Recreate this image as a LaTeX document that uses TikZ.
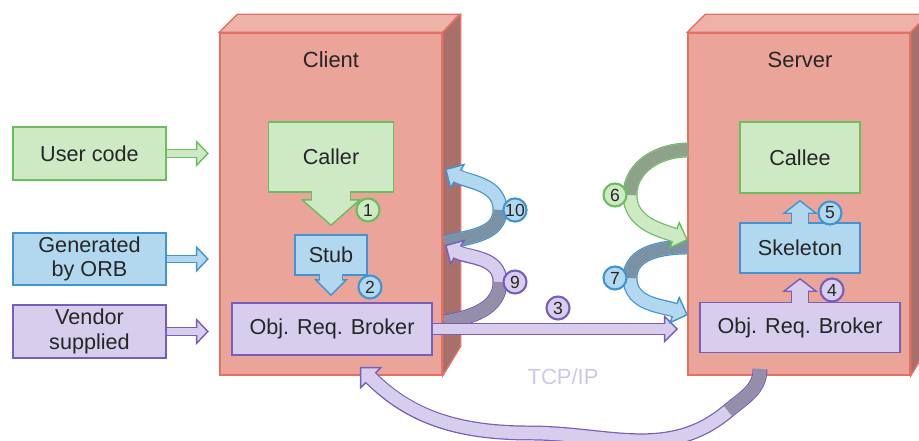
\documentclass[tikz,border=0pt]{standalone}
\usepackage{fontspec}
\setmainfont{Liberation Sans}
\usetikzlibrary{arrows.meta}
\usetikzlibrary{positioning}
\definecolor{boxred}{RGB}{234,164,153}
\definecolor{boxtop}{RGB}{238,178,168}
\definecolor{boxside}{RGB}{168,112,106}
\definecolor{boxline}{RGB}{226,114,100}
\definecolor{grnfill}{RGB}{205,234,197}
\definecolor{grnline}{RGB}{106,190,94}
\definecolor{grndark}{RGB}{142,162,138}
\definecolor{bluefill}{RGB}{178,216,240}
\definecolor{blueline}{RGB}{64,148,210}
\definecolor{bluedark}{RGB}{122,146,162}
\definecolor{purpfill}{RGB}{215,205,236}
\definecolor{purpline}{RGB}{118,94,186}
\definecolor{purpdark}{RGB}{148,142,168}
\definecolor{txtgray}{RGB}{38,38,38}
\definecolor{tcpcol}{RGB}{206,198,236}

\newcommand{\blockarrow}[7]{%
  \draw[line width=#3, draw=#1, -{Triangle[length=#5, width=#6, line width=0.8pt, fill=#2]}] #7;
  \draw[line width=#4, draw=#2, shorten >=#5-1.2pt] #7;
}

\begin{document}
\begin{tikzpicture}[x=0.2mm, y=0.2mm,
  tier/.style={draw=boxline, fill=boxred, line width=0.8pt, minimum width=44.4mm, minimum height=68.4mm},
  part/.style 2 args={draw=#1, fill=#2, line width=1pt, text=txtgray, align=center, inner sep=0pt, font=\fontsize{12.3}{14}\selectfont},
  num/.style 2 args={circle, draw=#1, fill=#2, line width=1.2pt, minimum size=4.6mm, inner sep=0pt, text=txtgray, font=\fontsize{10}{10}\selectfont}]
\clip (0,0) rectangle (919,441);

\node[tier] (client) at (331,237) {};
\node[tier] (server) at (799,237) {};
\foreach \t in {client,server} {
  \draw[draw=boxline, fill=boxtop, line width=0.8pt] (\t.north west) -- ++(18,18) -- ++(222,0) -- (\t.north east) -- cycle;
  \draw[draw=boxline, fill=boxside, line width=0.8pt] (\t.north east) -- ++(18,18) -- ++(0,-332) -- (\t.south east) -- cycle;
}
\node[text=txtgray, font=\fontsize{12.5}{14}\selectfont] (clientname) at (331,381) {Client};
\node[text=txtgray, font=\fontsize{12.5}{14}\selectfont] (servername) at (800,381) {Server};

\node[part={grnline}{grnfill}, minimum width=30.6mm, minimum height=10.6mm] (user) at (89.5,287.5) {User code};
\node[part={blueline}{bluefill}, minimum width=30.6mm, minimum height=10.4mm] (generated) at (89.5,182) {Generated\\by ORB};
\node[part={purpline}{purpfill}, minimum width=30.6mm, minimum height=10.6mm] (vendor) at (89.5,109.5) {Vendor\\supplied};
\coordinate[right=8.4mm of user.east] (userend);
\coordinate[right=8.4mm of generated.east] (generatedend);
\coordinate[right=8.4mm of vendor.east] (vendorend);
\blockarrow{grnline}{grnfill}{5.1pt}{3.7pt}{7.4pt}{15.3pt}{(user.east) -- (userend)}
\blockarrow{blueline}{bluefill}{5.1pt}{3.7pt}{7.4pt}{15.3pt}{(generated.east) -- (generatedend)}
\blockarrow{purpline}{purpfill}{5.1pt}{3.7pt}{7.4pt}{15.3pt}{(vendor.east) -- (vendorend)}

\node[part={grnline}{grnfill}, minimum width=25mm, minimum height=14mm] (caller) at (331,284) {Caller};
\node[part={blueline}{bluefill}, minimum width=14.4mm, minimum height=8mm] (stub) at (331,186) {Stub};
\node[part={purpline}{purpfill}, minimum width=40mm, minimum height=10.4mm] (corb) at (332,112) {Obj. Req. Broker};
\node[part={grnline}{grnfill}, minimum width=24mm, minimum height=14.2mm] (callee) at (800,283.5) {Callee};
\node[part={blueline}{bluefill}, minimum width=24mm, minimum height=10mm] (skel) at (800,193) {Skeleton};
\node[part={purpline}{purpfill}, minimum width=40mm, minimum height=10mm] (sorb) at (800,113.5) {Obj. Req. Broker};

\blockarrow{grnline}{grnfill}{22.7pt}{21.3pt}{15.3pt}{34.6pt}{([yshift=1pt]caller.south) -- ([yshift=1.6mm]stub.north)}
\blockarrow{blueline}{bluefill}{13.6pt}{12.2pt}{9.6pt}{19pt}{([yshift=1pt]stub.south) -- ([yshift=1.2mm]corb.north -| stub.south)}
\blockarrow{blueline}{bluefill}{10.2pt}{8.8pt}{8pt}{20.4pt}{([yshift=-1pt]skel.north) -- ([yshift=-1.2mm]callee.south)}
\blockarrow{purpline}{purpfill}{10.2pt}{8.8pt}{8pt}{20.4pt}{([yshift=-1pt]sorb.north) -- ([yshift=-0.8mm]skel.south)}

\coordinate (a10s) at (445,198); \coordinate (a10m) at (500,231); \coordinate (a10e) at (445,272);
\coordinate (a9s) at (445,119); \coordinate (a9m) at (500,159); \coordinate (a9e) at (445,196);
\coordinate (a7s) at (688,194); \coordinate (a7m) at (630,163); \coordinate (a7e) at (688,126);
\coordinate (a6s) at (688,291); \coordinate (a6m) at (630,246); \coordinate (a6e) at (688,201);
\coordinate (a3e) at (678,112);
\coordinate (bs) at (760,72); \coordinate (bq) at (728,30); \coordinate (bm) at (530,8); \coordinate (be) at (360,74);

\blockarrow{blueline}{bluefill}{8.5pt}{7.1pt}{8.5pt}{17pt}{(a10s) to[out=15,in=-90] (a10m) to[out=90,in=-30] (a10e)}
\draw[line width=7.1pt, bluedark] (a10s) to[out=15,in=-90] (a10m);
\blockarrow{purpline}{purpfill}{8.5pt}{7.1pt}{8.5pt}{17pt}{(a9s) to[out=10,in=-90] (a9m) to[out=90,in=-30] (a9e)}
\draw[line width=7.1pt, purpdark] (a9s) to[out=10,in=-90] (a9m);
\blockarrow{purpline}{purpfill}{6.8pt}{5.4pt}{8pt}{16pt}{(corb.east) -- (a3e)}
\blockarrow{blueline}{bluefill}{8.5pt}{7.1pt}{8.5pt}{17pt}{(a7s) to[out=180,in=90] (a7m) to[out=-90,in=160] (a7e)}
\draw[line width=7.1pt, bluedark] (a7s) to[out=180,in=90] (a7m);
\blockarrow{grnline}{grnfill}{8.5pt}{7.1pt}{8.5pt}{17pt}{(a6s) to[out=180,in=90] (a6m) to[out=-90,in=160] (a6e)}
\draw[line width=7.1pt, grndark] (a6s) to[out=180,in=90] (a6m);
\blockarrow{purpline}{purpfill}{8.5pt}{7.1pt}{9pt}{18pt}{(bs) to[out=-90,in=40] (bq) to[out=220,in=0] (bm) to[out=180,in=-45] (be)}
\draw[line width=7.1pt, purpdark] (bs) to[out=-90,in=40] (bq);

\node[text=tcpcol, font=\fontsize{12.5}{14}\selectfont] (tcp) at (563,64) {TCP/IP};

\node[num={grnline}{grnfill}] (n1) at (368,231) {1};
\node[num={blueline}{bluefill}] (n2) at (370,154) {2};
\node[num={purpline}{purpfill}] (n3) at (558,133) {3};
\node[num={purpline}{purpfill}] (n4) at (832,151) {4};
\node[num={blueline}{bluefill}] (n5) at (830,228) {5};
\node[num={grnline}{grnfill}] (n6) at (615,246) {6};
\node[num={blueline}{bluefill}] (n7) at (615,163) {7};
\node[num={purpline}{purpfill}] (n9) at (515,159) {9};
\node[num={blueline}{bluefill}] (n10) at (515,231) {10};
\end{tikzpicture}
\end{document}
